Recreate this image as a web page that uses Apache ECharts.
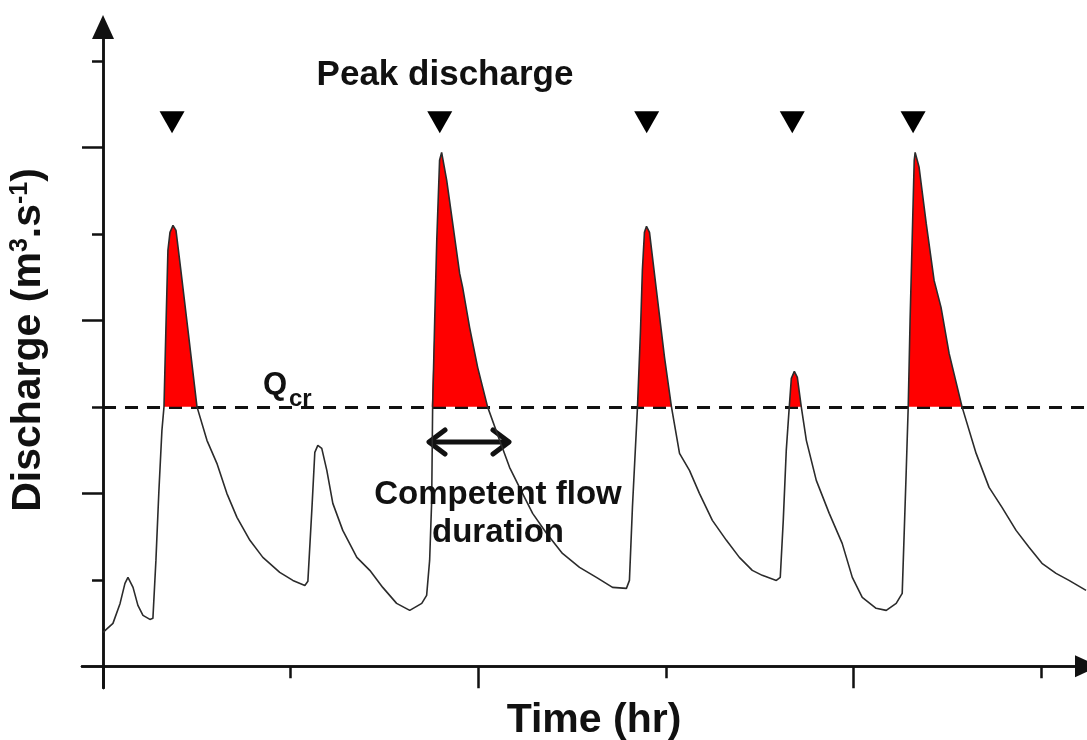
<!DOCTYPE html>
<html>
<head>
<meta charset="utf-8">
<script src="https://cdn.jsdelivr.net/npm/echarts@6/dist/echarts.min.js"></script>
<style>
html,body{margin:0;padding:0;background:#ffffff;}
#chart{width:1087px;height:740px;}
</style>
</head>
<body>
<div id="chart"></div>
<script>
// ---- data (time in axis-tick units, discharge in axis-tick units) ----
const timeHr = [
  0.000, 0.053, 0.091, 0.117, 0.133, 0.160, 0.186, 0.213, 0.250, 0.266,
  0.282, 0.298, 0.314, 0.325, 0.335, 0.346, 0.357, 0.373, 0.389, 0.415,
  0.453, 0.501, 0.554, 0.607, 0.660, 0.714, 0.783, 0.852, 0.942, 1.012,
  1.076, 1.092, 1.113, 1.129, 1.145, 1.166, 1.193, 1.225, 1.278, 1.353,
  1.422, 1.491, 1.565, 1.635, 1.699, 1.725, 1.741, 1.752, 1.757, 1.768,
  1.779, 1.794, 1.805, 1.832, 1.864, 1.901, 1.917, 1.954, 1.997, 2.050,
  2.114, 2.167, 2.220, 2.290, 2.364, 2.449, 2.540, 2.630, 2.716, 2.790,
  2.806, 2.822, 2.849, 2.865, 2.875, 2.886, 2.897, 2.913, 2.950, 2.993,
  3.030, 3.073, 3.126, 3.179, 3.248, 3.323, 3.392, 3.461, 3.514, 3.589,
  3.610, 3.626, 3.642, 3.658, 3.669, 3.685, 3.701, 3.722, 3.749, 3.802,
  3.871, 3.940, 3.994, 4.047, 4.121, 4.175, 4.228, 4.260, 4.281, 4.292,
  4.302, 4.313, 4.324, 4.329, 4.350, 4.388, 4.430, 4.467, 4.510, 4.579,
  4.654, 4.723, 4.792, 4.867, 4.936, 5.005, 5.080, 5.149, 5.240
];
const discharge = [
  0.393, 0.497, 0.728, 0.960, 1.029, 0.913, 0.705, 0.590, 0.543, 0.555,
  1.225, 2.035, 2.728, 3.000, 3.884, 4.809, 5.017, 5.098, 5.040, 4.578,
  3.884, 3.000, 2.613, 2.347, 2.000, 1.723, 1.457, 1.260, 1.087, 0.994,
  0.936, 0.983, 1.803, 2.474, 2.555, 2.520, 2.266, 1.884, 1.572, 1.260,
  1.110, 0.913, 0.728, 0.647, 0.728, 0.821, 1.225, 1.919, 3.000, 4.000,
  4.925, 5.850, 5.942, 5.618, 5.121, 4.543, 4.382, 3.919, 3.457, 3.000,
  2.613, 2.301, 2.069, 1.769, 1.538, 1.306, 1.145, 1.029, 0.913, 0.902,
  0.994, 1.838, 3.000, 3.884, 4.578, 5.017, 5.087, 5.017, 4.347, 3.572,
  3.000, 2.462, 2.266, 2.000, 1.688, 1.457, 1.260, 1.110, 1.052, 0.994,
  1.029, 1.688, 2.497, 3.000, 3.329, 3.410, 3.341, 3.000, 2.613, 2.150,
  1.769, 1.422, 1.029, 0.798, 0.671, 0.647, 0.728, 0.844, 2.231, 3.000,
  4.000, 4.925, 5.850, 5.942, 5.769, 5.121, 4.462, 4.150, 3.618, 3.000,
  2.462, 2.069, 1.838, 1.572, 1.376, 1.191, 1.075, 0.994, 0.879
];
const qCritical = 3;
const peakTimes = [0.368, 1.795, 2.898, 3.674, 4.318];
const peakMarkerLevel = 6.29;
const xMajorTicks = [0, 2, 4];
const xMinorTicks = [1, 3, 5];
const yMajorTicks = [2, 4, 6];
const yMinorTicks = [1, 3, 5, 7];
const xRange = [-0.112, 5.245];
const yRange = [-0.25, 7.39];
const xTitle = 'Time (hr)';
const peakLabel = 'Peak discharge';
const durationLabel = 'Competent flow\nduration';

// ---- build ----
const curve = timeHr.map((t, i) => [t, discharge[i]]);
const aboveCritical = timeHr.map((t, i) => [t, Math.max(qCritical, discharge[i])]);
const peaks = peakTimes.map(t => [t, peakMarkerLevel]);

const INK = '#111111';
const FONT = '"Liberation Sans", Arial, Helvetica, sans-serif';

function xAxisDef(ticks, len, arrow) {
  return {
    type: 'value', min: xRange[0], max: xRange[1], position: 'bottom',
    axisLine: { show: true, onZero: true, onZeroAxisIndex: 0,
      symbol: arrow ? ['none', 'triangle'] : 'none', symbolSize: [22, 24],
      lineStyle: { color: INK, width: 2.5 } },
    axisTick: { show: true, customValues: ticks, length: len, inside: false,
      lineStyle: { color: INK, width: 2.5 } },
    axisLabel: { show: false, customValues: ticks },
    splitLine: { show: false }
  };
}
function yAxisDef(ticks, len, arrow) {
  return {
    type: 'value', min: yRange[0], max: yRange[1], position: 'left',
    axisLine: { show: true, onZero: true, onZeroAxisIndex: 0,
      symbol: arrow ? ['none', 'triangle'] : 'none', symbolSize: [22, 24],
      lineStyle: { color: INK, width: 2.5 } },
    axisTick: { show: true, customValues: ticks, length: len, inside: false,
      lineStyle: { color: INK, width: 2.5 } },
    axisLabel: { show: false, customValues: ticks },
    splitLine: { show: false }
  };
}

const chart = echarts.init(document.getElementById('chart'), null, { renderer: 'canvas' });
chart.setOption({
  animation: false,
  backgroundColor: '#ffffff',
  grid: { left: 82, top: 27.1, width: 1006, height: 660.9, containLabel: false },
  xAxis: [xAxisDef(xMajorTicks, 22, true), xAxisDef(xMinorTicks, 12, false)],
  yAxis: [yAxisDef(yMajorTicks, 21, true), yAxisDef(yMinorTicks, 11, false)],
  series: [
    {
      // critical discharge threshold line (dashed)
      type: 'line', data: [], symbol: 'none', silent: true, z: 1,
      markLine: {
        silent: true, symbol: ['none', 'none'], z: 3,
        label: { show: false },
        lineStyle: { color: INK, width: 3, type: [13, 9] },
        data: [[{ coord: [0, qCritical] }, { coord: [xRange[1], qCritical] }]]
      }
    },
    {
      // competent flow (discharge above Qcr) filled red
      type: 'line', data: aboveCritical, symbol: 'none', silent: true, z: 6,
      lineStyle: { width: 0, opacity: 0 },
      areaStyle: { color: '#ff0000', opacity: 1, origin: qCritical }
    },
    {
      type: 'line', data: curve, symbol: 'none', silent: true, z: 7,
      lineStyle: { color: '#2b2b2b', width: 1.6 }
    },
    {
      type: 'scatter', data: peaks, symbol: 'triangle', symbolRotate: 180,
      symbolSize: [25, 22], silent: true, z: 8,
      itemStyle: { color: '#000000', opacity: 1 }
    }
  ],
  graphic: [
    { type: 'text', x: 445, y: 75, z: 20,
      style: { text: peakLabel, font: 'bold 35px ' + FONT, fill: INK, align: 'center', verticalAlign: 'middle' } },
    { type: 'text', x: 263, y: 385, z: 20,
      style: { text: 'Q', font: 'bold 31px ' + FONT, fill: INK, align: 'left', verticalAlign: 'middle' } },
    { type: 'text', x: 289, y: 399, z: 20,
      style: { text: 'cr', font: 'bold 24px ' + FONT, fill: INK, align: 'left', verticalAlign: 'middle' } },
    { type: 'text', x: 498, y: 514, z: 20,
      style: { text: durationLabel, font: 'bold 33px ' + FONT, lineHeight: 38, fill: INK, align: 'center', verticalAlign: 'middle' } },
    { type: 'text', x: 594, y: 721, z: 20,
      style: { text: xTitle, font: 'bold 41px ' + FONT, fill: INK, align: 'center', verticalAlign: 'middle' } },
    { type: 'text', x: 29, y: 340, rotation: Math.PI / 2, z: 20,
      style: {
        text: '{t|Discharge (m}{s|3}{t|.s}{s|-1}{t|)}',
        align: 'center', verticalAlign: 'middle',
        rich: {
          t: { fontFamily: FONT, fontWeight: 'bold', fontSize: 41, lineHeight: 42, fill: INK, verticalAlign: 'middle' },
          s: { fontFamily: FONT, fontWeight: 'bold', fontSize: 25, lineHeight: 26, fill: INK, verticalAlign: 'top' }
        }
      } },
    { type: 'group', z: 20, children: [
      { type: 'line', shape: { x1: 430, y1: 442, x2: 508, y2: 442 },
        style: { stroke: INK, lineWidth: 5, lineCap: 'round' } },
      { type: 'polyline', shape: { points: [[445, 430], [429, 442], [445, 454]] },
        style: { stroke: INK, lineWidth: 5, lineCap: 'round', lineJoin: 'round', fill: null } },
      { type: 'polyline', shape: { points: [[493, 430], [509, 442], [493, 454]] },
        style: { stroke: INK, lineWidth: 5, lineCap: 'round', lineJoin: 'round', fill: null } }
    ] }
  ]
});
</script>
</body>
</html>
